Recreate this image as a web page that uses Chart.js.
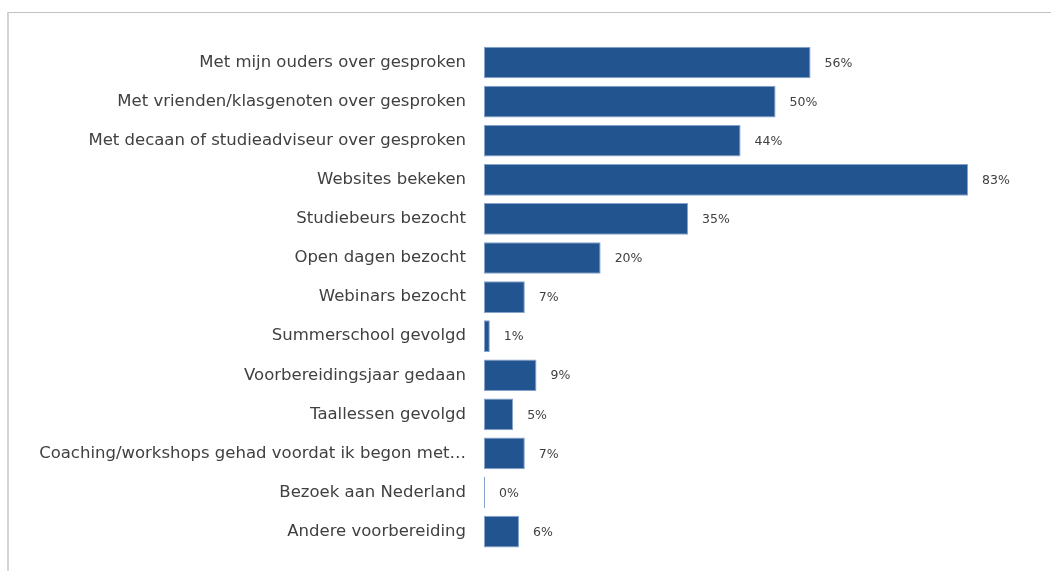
<!DOCTYPE html>
<html>
<head>
<meta charset="utf-8">
<script src="https://cdn.jsdelivr.net/npm/chart.js@4/dist/chart.umd.min.js"></script>
<style>
  html, body { margin: 0; padding: 0; background: #fff; }
  body { width: 1051px; height: 571px; position: relative; overflow: hidden; }
  #frame {
    position: absolute; left: 7px; top: 12px; width: 1100px; height: 600px;
    border-left: 2px solid #d4d4d4; border-top: 1px solid #c2c2c2;
  }
  #chart { position: absolute; left: 0; top: 0; }
</style>
</head>
<body>
<div id="frame"></div>
<canvas id="chart" width="1051" height="571"></canvas>
<script>
'use strict';

var categories = [
  'Met mijn ouders over gesproken',
  'Met vrienden/klasgenoten over gesproken',
  'Met decaan of studieadviseur over gesproken',
  'Websites bekeken',
  'Studiebeurs bezocht',
  'Open dagen bezocht',
  'Webinars bezocht',
  'Summerschool gevolgd',
  'Voorbereidingsjaar gedaan',
  'Taallessen gevolgd',
  'Coaching/workshops gehad voordat ik begon met\u2026',
  'Bezoek aan Nederland',
  'Andere voorbereiding'
];
var percentages = [56, 50, 44, 83, 35, 20, 7, 1, 9, 5, 7, 0, 6];

var textColor = '#404040';

// value labels next to each bar
var valueLabels = {
  id: 'valueLabels',
  afterDatasetsDraw: function (chart) {
    var ctx = chart.ctx,
      meta = chart.getDatasetMeta(0);
    ctx.save();
    ctx.font = '12.5px "DejaVu Sans"';
    ctx.fillStyle = textColor;
    ctx.textAlign = 'left';
    ctx.textBaseline = 'middle';
    meta.data.forEach(function (bar, index) {
      ctx.fillText(percentages[index] + '%', bar.x + 14, bar.y + 1);
    });
    ctx.restore();
  }
};

new Chart(document.getElementById('chart'), {
  type: 'bar',
  data: {
    labels: categories,
    datasets: [{
      data: percentages,
      backgroundColor: '#22558f',
      borderColor: '#86a3cb',
      borderWidth: 1,
      borderSkipped: false,
      minBarLength: 1,
      categoryPercentage: 1,
      barPercentage: 0.81
    }]
  },
  options: {
    indexAxis: 'y',
    responsive: false,
    animation: false,
    layout: { padding: { top: 43, bottom: 18, right: 83, left: 0 } },
    plugins: { legend: { display: false }, tooltip: { enabled: false } },
    scales: {
      x: {
        min: 0,
        max: 83,
        display: false
      },
      y: {
        grid: { display: false },
        border: { display: false },
        ticks: {
          color: textColor,
          padding: 10,
          autoSkip: false,
          font: { family: '"DejaVu Sans"', size: 16.5 }
        },
        afterFit: function (scale) { scale.width = 484; }
      }
    }
  },
  plugins: [valueLabels]
});
</script>
</body>
</html>
